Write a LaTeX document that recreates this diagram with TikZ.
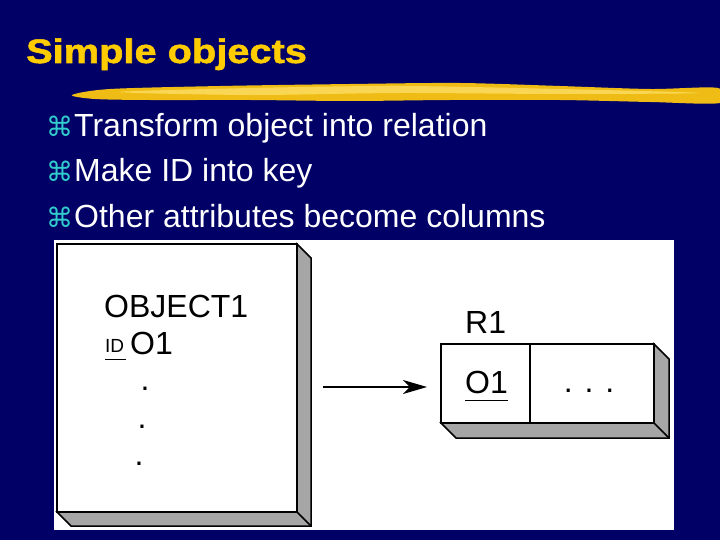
\documentclass[tikz,border=0pt]{standalone}
\usepackage{fontspec}
\setmainfont{Liberation Sans}
\newfontfamily\symfont{DejaVu Sans}
\newfontfamily\titlefont[FakeBold=1.5]{Liberation Sans Bold}
\usetikzlibrary{arrows.meta,positioning}
\definecolor{slidebg}{RGB}{0,0,102}
\definecolor{titlegold}{RGB}{255,204,0}
\definecolor{bulletcyan}{RGB}{51,204,204}
\definecolor{streakgold}{RGB}{238,188,20}
\definecolor{streaklight}{RGB}{255,226,110}
\definecolor{depthgray}{RGB}{166,166,166}
\tikzset{
  frontbox/.style={draw=black, fill=white, line width=1.5pt, inner sep=0pt, outer sep=0pt},
  bullettext/.style={anchor=base west, text=white, inner sep=0pt, font=\fontsize{32}{36}\selectfont},
  bulletsym/.style={anchor=base west, text=bulletcyan, inner sep=0pt, font=\symfont\fontsize{27}{30}\selectfont},
  boxtext/.style={anchor=base west, inner sep=0pt, font=\fontsize{32}{34}\selectfont},
}
% gray depth behind a front face: west node, east node, depth
\newcommand\depthshade[3]{%
  \filldraw[fill=depthgray, draw=black, line width=1.5pt, line join=miter]
    (#2.north east) -- ++(#3,#3) -- ([shift={(#3,#3)}]#2.south east)
    -- ([shift={(#3,#3)}]#1.south west) -- (#1.south west) -- (#2.south east) -- cycle;
  \draw[line width=1.5pt] (#2.south east) -- ++(#3,#3);}
\begin{document}
\begin{tikzpicture}[x=1pt, y=-1pt]
\useasboundingbox (0,0) rectangle (720,540);
\fill[slidebg] (0,0) rectangle (720,540);
% title and brush stroke
\node[anchor=base west, inner sep=0pt, text=titlegold, font=\titlefont\fontsize{34}{40}\selectfont] (title) at (26,63) {\scalebox{1.17}[1]{Simple objects}};
\fill[streakgold] plot[smooth cycle, tension=0.5] coordinates {(72,95) (110,89) (220,86) (350,84) (460,83) (560,86) (650,89) (718,88) (720,103) (650,102) (560,100) (450,100) (350,101) (250,100) (150,100) (95,99)};
\fill[streaklight, opacity=0.7] plot[smooth cycle, tension=0.5] coordinates {(120,92) (250,88) (400,86) (560,89) (700,93) (560,94) (400,93) (250,95)};
% bullets
\foreach \txt [count=\i] in {Transform object into relation, Make ID into key, Other attributes become columns} {
  \node[bulletsym] (sym\i) at (46,92+45*\i) {⌘};
  \node[bullettext] (item\i) at (74,92+45*\i) {\txt};
}
% figure panel
\fill[white] (54,240) rectangle (674,530);
% object
\node[frontbox, minimum width=240, minimum height=268] (obj) at (177,378) {};
\depthshade{obj}{obj}{14}
\node[boxtext] (objname) at (104,317) {OBJECT1};
\node[anchor=base west, inner sep=0pt, font=\fontsize{19}{20}\selectfont] (idtag) at (105,352) {ID};
\draw[line width=1pt] ([yshift=-7pt]idtag.base west) -- ([yshift=-7pt, xshift=2pt]idtag.base east);
\node[boxtext] (objid) at (130,354) {O1};
\foreach \dx/\dy [count=\i] in {145/389, 142/427, 139/464}
  \node[boxtext, anchor=center] (dot\i) at (\dx,\dy) {.};
% relation
\node[frontbox, minimum width=89, minimum height=79] (key) at (485.5,383.5) {};
\node[frontbox, minimum width=124, minimum height=79, right=0pt of key] (rest) {};
\depthshade{key}{rest}{15}
\node[boxtext] (relname) at (465,333) {R1};
\node[boxtext] (keyname) at (465,393) {O1};
\draw[line width=1pt] ([yshift=-7pt]keyname.base west) -- ([yshift=-7pt]keyname.base east);
\node[boxtext, anchor=base] (restdots) at (589,392) {. . .};
% mapping arrow
\coordinate (arrtail) at (323,387);
\draw[line width=1.3pt, shorten >=14pt, -{Stealth[length=24pt, width=14pt, inset=7pt]}] (arrtail) -- (arrtail -| key.west);
\end{tikzpicture}
\end{document}
